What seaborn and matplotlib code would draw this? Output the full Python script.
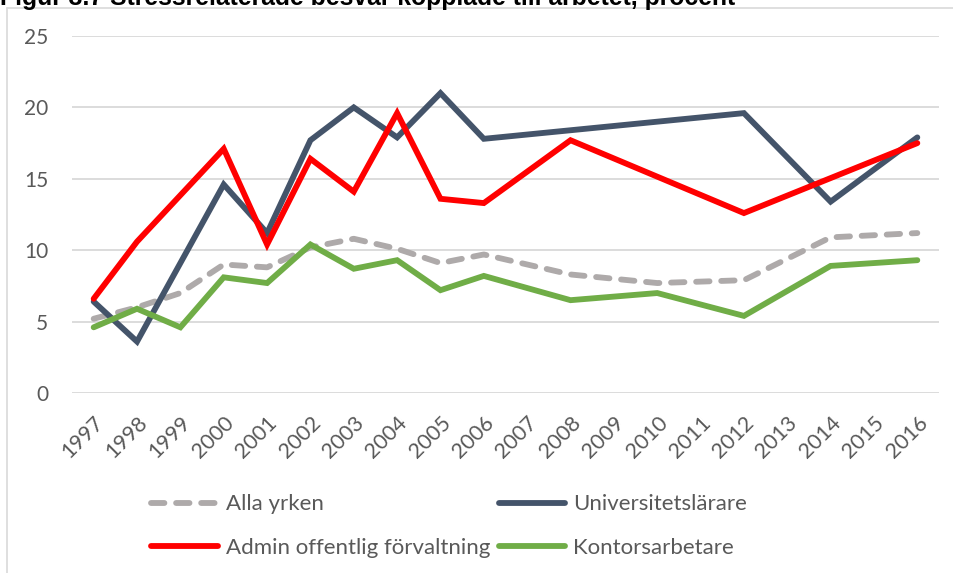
import numpy as np
import pandas as pd
import seaborn as sns
import matplotlib.pyplot as plt
from matplotlib.lines import Line2D

years = ["1997", "1998", "1999", "2000", "2001", "2002", "2003", "2004", "2005", "2006",
         "2007", "2008", "2009", "2010", "2011", "2012", "2013", "2014", "2015", "2016"]
nan = np.nan

alla_yrken = [5.2, 6.0, 7.0, 9.0, 8.8, 10.2, 10.8, 10.1, 9.1, 9.7,
              nan, 8.3, nan, 7.7, nan, 7.9, nan, 10.9, nan, 11.2]
universitetslarare = [6.4, 3.6, nan, 14.6, 11.2, 17.7, 20.0, 17.9, 21.0, 17.8,
                      nan, nan, nan, nan, nan, 19.6, nan, 13.4, nan, 17.9]
admin_offentlig = [6.6, 10.6, nan, 17.1, 10.4, 16.4, 14.1, 19.6, 13.6, 13.3,
                   nan, 17.7, nan, nan, nan, 12.6, nan, nan, nan, 17.5]
kontorsarbetare = [4.6, 5.9, 4.6, 8.1, 7.7, 10.4, 8.7, 9.3, 7.2, 8.2,
                   nan, 6.5, nan, 7.0, nan, 5.4, nan, 8.9, nan, 9.3]

series_names = ["Alla yrken", "Universitetslärare", "Admin offentlig förvaltning", "Kontorsarbetare"]
series_values = [alla_yrken, universitetslarare, admin_offentlig, kontorsarbetare]
colors = {"Alla yrken": "#AEAAAA", "Universitetslärare": "#44546A",
          "Admin offentlig förvaltning": "#FF0000", "Kontorsarbetare": "#70AD47"}
dash_map = {"Alla yrken": (2.3, 2.0), "Universitetslärare": "",
            "Admin offentlig förvaltning": "", "Kontorsarbetare": ""}

title = "Figur 3.7 Stressrelaterade besvär kopplade till arbetet, procent"

# long-form table; gaps in the survey years are skipped so the lines join across them
rows = []
for name, vals in zip(series_names, series_values):
    for i, v in enumerate(vals):
        rows.append({"pos": i, "år": years[i], "serie": name, "värde": v})
df = pd.DataFrame(rows).dropna()

sns.set_theme(style="white")
plt.rcParams["font.family"] = ["Lato", "DejaVu Sans"]
text_color = "#595959"
grid_color = "#D9D9D9"
lw = 4.2

fig = plt.figure(figsize=(9.54, 5.73), dpi=100)
ax = fig.add_axes([72 / 954, 1 - 393 / 573, 867 / 954, 357 / 573])

sns.lineplot(data=df, x="pos", y="värde", hue="serie", style="serie",
             hue_order=series_names, style_order=series_names,
             palette=colors, dashes=dash_map, linewidth=lw,
             sort=True, estimator=None, legend=False, ax=ax,
             solid_joinstyle="miter", dash_capstyle="round", dash_joinstyle="round")

ax.set_xlim(-0.5, len(years) - 0.5)
ax.set_ylim(0, 25)
ax.set_yticks([0, 5, 10, 15, 20, 25])
ax.set_xticks(range(len(years)))
ax.set_xticklabels(years, rotation=45, ha="right", rotation_mode="anchor")
ax.tick_params(axis="y", length=0, pad=17, labelsize=15, labelcolor=text_color)
ax.tick_params(axis="x", length=0, pad=14, labelsize=15.5, labelcolor=text_color)
ax.set_xlabel("")
ax.set_ylabel("")
ax.grid(axis="y", color=grid_color, linewidth=1.3)
ax.grid(axis="x", visible=False)
for s in ax.spines.values():
    s.set_visible(False)
ax.set_axisbelow(True)

# legend: two columns, same styling as the lines
order = ["Alla yrken", "Admin offentlig förvaltning", "Universitetslärare", "Kontorsarbetare"]
handles = []
for name in order:
    h = Line2D([], [], color=colors[name], linewidth=lw, solid_capstyle="round",
               dash_capstyle="round")
    if dash_map[name]:
        h.set_dashes(dash_map[name])
    handles.append(h)
leg = fig.legend(handles, order, ncol=2, loc="center left",
                 bbox_to_anchor=(140 / 954, 1 - 526 / 573), frameon=False,
                 fontsize=16, handlelength=3.0, handletextpad=0.35,
                 columnspacing=0.4, labelspacing=1.05, borderpad=0)
for t in leg.get_texts():
    t.set_color(text_color)

# chart frame
fig.add_artist(Line2D([7.5 / 954, 7.5 / 954], [0, 1 - 7.5 / 573], color=grid_color,
                      linewidth=1.2, transform=fig.transFigure))
fig.add_artist(Line2D([7.5 / 954, 1], [1 - 7.5 / 573, 1 - 7.5 / 573], color=grid_color,
                      linewidth=1.2, transform=fig.transFigure))

fig.text(0, 1 - 5 / 573, title, ha="left", va="baseline", fontsize=17.8,
         fontweight="bold", color="black", family=["Liberation Sans", "DejaVu Sans"])

fig.savefig("out.png", dpi=100)
